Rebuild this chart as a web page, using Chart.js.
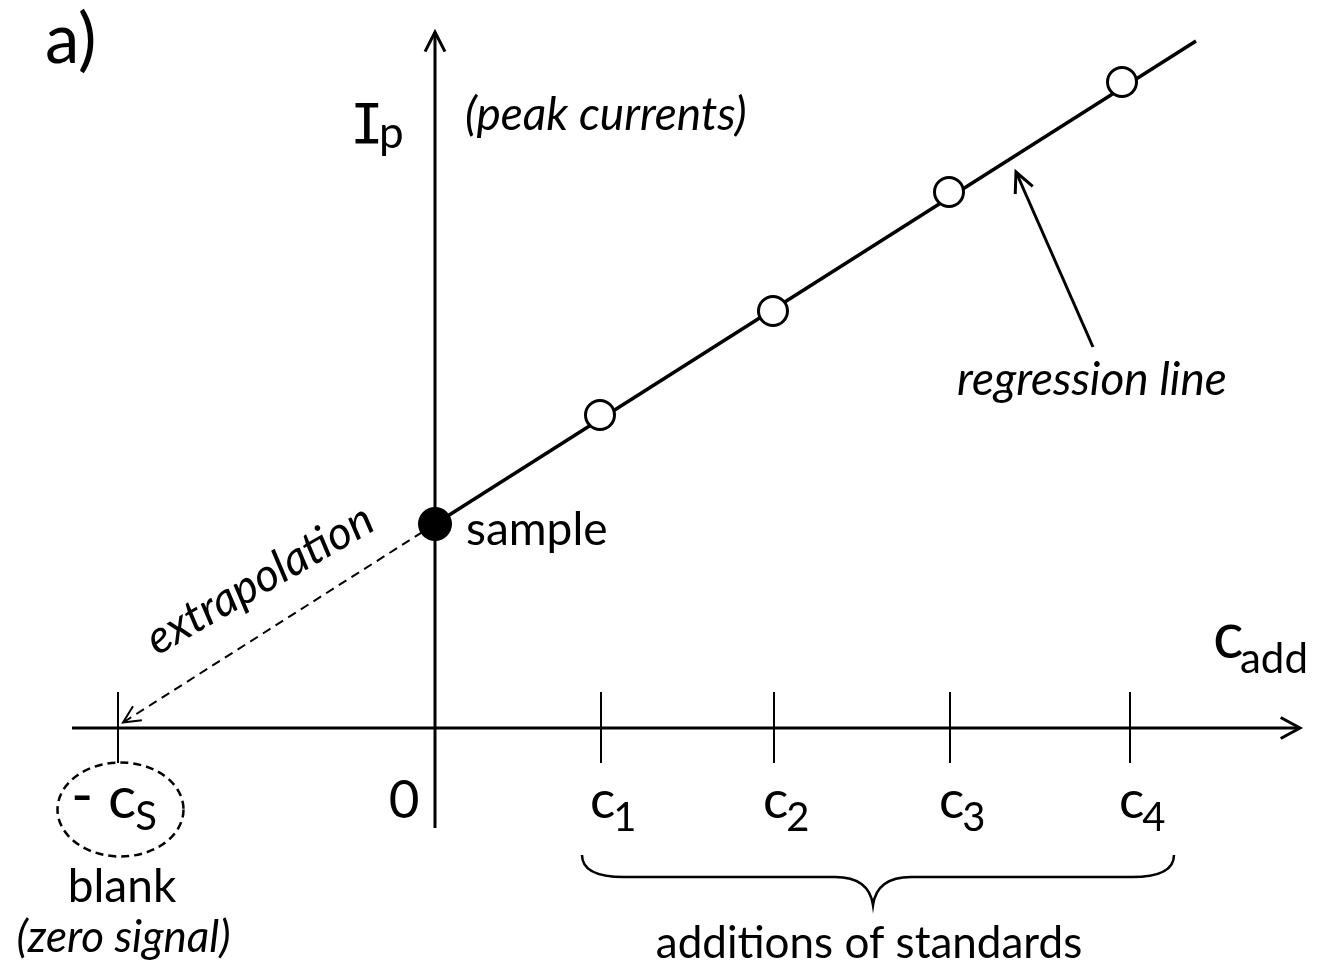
<!DOCTYPE html>
<html>
<head>
<meta charset="utf-8">
<script src="https://cdn.jsdelivr.net/npm/chart.js@4"></script>
<style>
  html, body { margin: 0; padding: 0; background: #ffffff; }
  canvas { display: block; }
</style>
</head>
<body>
<canvas id="plot" width="1321" height="970"></canvas>
<script>
// Standard-addition method: peak current Ip versus added concentration c_add.

// Concentration positions of the axis ticks (-cS, c1..c4) and their labels
const tickValues = [-3.17, 1.66, 3.39, 5.15, 6.95];
const tickMain = ['c', 'c', 'c', 'c', 'c'];
const tickSub = ['S', '1', '2', '3', '4'];

// Measured peak currents of the spiked solutions
const standardConc = [1.65, 3.38, 5.14, 6.87];
const standardIp = [3.13, 4.17, 5.36, 6.46];

// The unspiked sample
const sampleConc = [0];
const sampleIp = [2.04];

// Regression line through the measurements and its extrapolation to zero signal
const regressionConc = [0, 7.61];
const regressionIp = [2.04, 6.87];
const extrapolationConc = [0, -3.12];
const extrapolationIp = [2.04, 0.055];

const toPoints = (xs, ys) => xs.map((x, i) => ({ x: x, y: ys[i] }));

const FONT = 'Lato, "Open Sans", sans-serif';
const font = (size, italic) => (italic ? 'italic ' : '') + size + 'px ' + FONT;

function chevron(ctx, tx, ty, angle, len, spread) {
  // open arrowhead with its tip at (tx, ty) pointing along 'angle'
  ctx.beginPath();
  ctx.moveTo(tx - len * Math.cos(angle - spread), ty - len * Math.sin(angle - spread));
  ctx.lineTo(tx, ty);
  ctx.lineTo(tx - len * Math.cos(angle + spread), ty - len * Math.sin(angle + spread));
  ctx.stroke();
}

function text(ctx, str, x, y, f, align) {
  ctx.font = f;
  ctx.textAlign = align || 'left';
  ctx.textBaseline = 'alphabetic';
  ctx.fillText(str, x, y);
}

// Crossed axes through the origin, with arrowheads and tick marks
const axesPlugin = {
  id: 'crossedAxes',
  beforeDatasetsDraw(chart) {
    const ctx = chart.ctx;
    const X = v => chart.scales.x.getPixelForValue(v);
    const Y = v => chart.scales.y.getPixelForValue(v);
    ctx.save();
    ctx.strokeStyle = '#000';
    ctx.lineCap = 'butt';

    // horizontal axis
    ctx.lineWidth = 3;
    ctx.beginPath();
    ctx.moveTo(X(-3.63), Y(0));
    ctx.lineTo(X(8.65), Y(0));
    ctx.stroke();
    chevron(ctx, X(8.65), Y(0), 0, 22, 0.5);

    // vertical axis
    ctx.beginPath();
    ctx.moveTo(X(0), Y(-1.0));
    ctx.lineTo(X(0), Y(6.96));
    ctx.stroke();
    chevron(ctx, X(0), Y(6.96), -Math.PI / 2, 22, 0.47);

    // tick marks
    ctx.lineWidth = 2;
    tickValues.forEach(v => {
      ctx.beginPath();
      ctx.moveTo(X(v), Y(0) - 36);
      ctx.lineTo(X(v), Y(0) + 35);
      ctx.stroke();
    });
    ctx.restore();
  }
};

// Labels, braces and explanatory arrows
const labelPlugin = {
  id: 'labels',
  afterDatasetsDraw(chart) {
    const ctx = chart.ctx;
    const X = v => chart.scales.x.getPixelForValue(v);
    const Y = v => chart.scales.y.getPixelForValue(v);
    ctx.save();
    ctx.fillStyle = '#000';
    ctx.strokeStyle = '#000';

    // panel letter
    text(ctx, 'a)', X(-3.90), Y(6.65), font(69));

    // axis titles
    text(ctx, 'I', X(-0.85), Y(5.85), '56px "DejaVu Sans Mono", monospace');
    text(ctx, 'p', X(-0.56), Y(5.80), font(44));
    text(ctx, '(peak currents)', X(0.30), Y(5.98), font(46, true));
    text(ctx, 'c', X(7.78), Y(0.70), font(64));
    text(ctx, 'add', X(8.05), Y(0.55), font(42));

    // origin and tick labels
    text(ctx, '0', X(-0.31), Y(-0.90), font(53), 'center');
    tickValues.forEach((v, i) => {
      if (i === 0) return;
      const left = X(v) - 11;
      ctx.font = font(53);
      ctx.textAlign = 'left';
      ctx.fillText(tickMain[i], left, Y(-0.90));
      const w = ctx.measureText(tickMain[i]).width;
      ctx.font = font(40);
      ctx.fillText(tickSub[i], left + w - 2, Y(-1.03));
    });

    // -cS inside a dashed ellipse
    const bx = X(tickValues[0]);
    text(ctx, '-', bx - 47, Y(-0.88), font(60));
    ctx.font = font(59);
    ctx.textAlign = 'left';
    ctx.fillText(tickMain[0], bx - 10, Y(-0.90));
    const cw = ctx.measureText(tickMain[0]).width;
    ctx.font = font(40);
    ctx.fillText(tickSub[0], bx - 11 + cw, Y(-1.02));
    ctx.lineWidth = 2.5;
    ctx.setLineDash([8, 5]);
    ctx.beginPath();
    ctx.ellipse(bx + 2.5, Y(-0.815), 63, 47, 0, 0, Math.PI * 2);
    ctx.stroke();
    ctx.setLineDash([]);

    text(ctx, 'blank', X(-3.13), Y(-1.74), font(46), 'center');
    text(ctx, '(zero signal)', X(-3.115), Y(-2.24), font(44, true), 'center');

    // sample label
    text(ctx, 'sample', X(0.31), Y(1.83), font(46));

    // extrapolation label, along the dashed line
    ctx.save();
    ctx.translate(X(-2.78), Y(0.72));
    ctx.rotate(-30 * Math.PI / 180);
    text(ctx, 'extrapolation', 0, 0, font(46, true));
    ctx.restore();

    // arrowhead at the end of the extrapolation
    const ex = X(extrapolationConc[1]), ey = Y(extrapolationIp[1]);
    const ang = Math.atan2(ey - Y(extrapolationIp[0]), ex - X(extrapolationConc[0]));
    ctx.lineWidth = 2;
    chevron(ctx, ex, ey, ang, 19, 0.45);

    // regression line label with pointer arrow
    text(ctx, 'regression line', X(5.22), Y(3.33), font(46, true));
    const ax0 = X(6.58), ay0 = Y(3.81), ax1 = X(5.81), ay1 = Y(5.56);
    ctx.lineWidth = 3;
    ctx.beginPath();
    ctx.moveTo(ax0, ay0);
    ctx.lineTo(ax1, ay1);
    ctx.stroke();
    chevron(ctx, ax1, ay1, Math.atan2(ay1 - ay0, ax1 - ax0), 22, 0.45);

    // curly brace under the additions
    const l = X(1.47), r = X(7.39), m = X(4.38);
    const top = Y(-1.27), mid = Y(-1.49), tip = Y(-1.77);
    ctx.lineWidth = 2.5;
    ctx.beginPath();
    ctx.moveTo(l, top);
    ctx.quadraticCurveTo(l, mid, l + 42, mid);
    ctx.lineTo(m - 38, mid);
    ctx.quadraticCurveTo(m - 4, mid, m, tip);
    ctx.quadraticCurveTo(m + 4, mid, m + 38, mid);
    ctx.lineTo(r - 42, mid);
    ctx.quadraticCurveTo(r, mid, r, top);
    ctx.stroke();
    text(ctx, 'additions of standards', m - 4, Y(-2.30), font(44), 'center');

    ctx.restore();
  }
};

new Chart(document.getElementById('plot'), {
  type: 'scatter',
  data: {
    datasets: [
      {
        label: 'sample',
        data: toPoints(sampleConc, sampleIp),
        pointRadius: 17,
        pointBackgroundColor: '#000',
        pointBorderColor: '#000',
        pointBorderWidth: 0,
        order: 0
      },
      {
        label: 'standards',
        data: toPoints(standardConc, standardIp),
        pointRadius: 14.5,
        pointBackgroundColor: '#fff',
        pointBorderColor: '#000',
        pointBorderWidth: 3,
        order: 1
      },
      {
        label: 'regression line',
        type: 'line',
        data: toPoints(regressionConc, regressionIp),
        borderColor: '#000',
        borderWidth: 3.5,
        pointRadius: 0,
        fill: false,
        order: 2
      },
      {
        label: 'extrapolation',
        type: 'line',
        data: toPoints(extrapolationConc, extrapolationIp),
        borderColor: '#000',
        borderWidth: 2,
        borderDash: [9, 6],
        pointRadius: 0,
        fill: false,
        order: 3
      }
    ]
  },
  options: {
    responsive: false,
    animation: false,
    devicePixelRatio: 1,
    events: [],
    layout: { padding: 0, autoPadding: false },
    plugins: {
      legend: { display: false },
      tooltip: { enabled: false },
      title: { display: false }
    },
    scales: {
      x: { type: 'linear', min: -4.35, max: 8.86, display: false },
      y: { type: 'linear', min: -2.42, max: 7.28, display: false }
    }
  },
  plugins: [axesPlugin, labelPlugin]
});
</script>
</body>
</html>
